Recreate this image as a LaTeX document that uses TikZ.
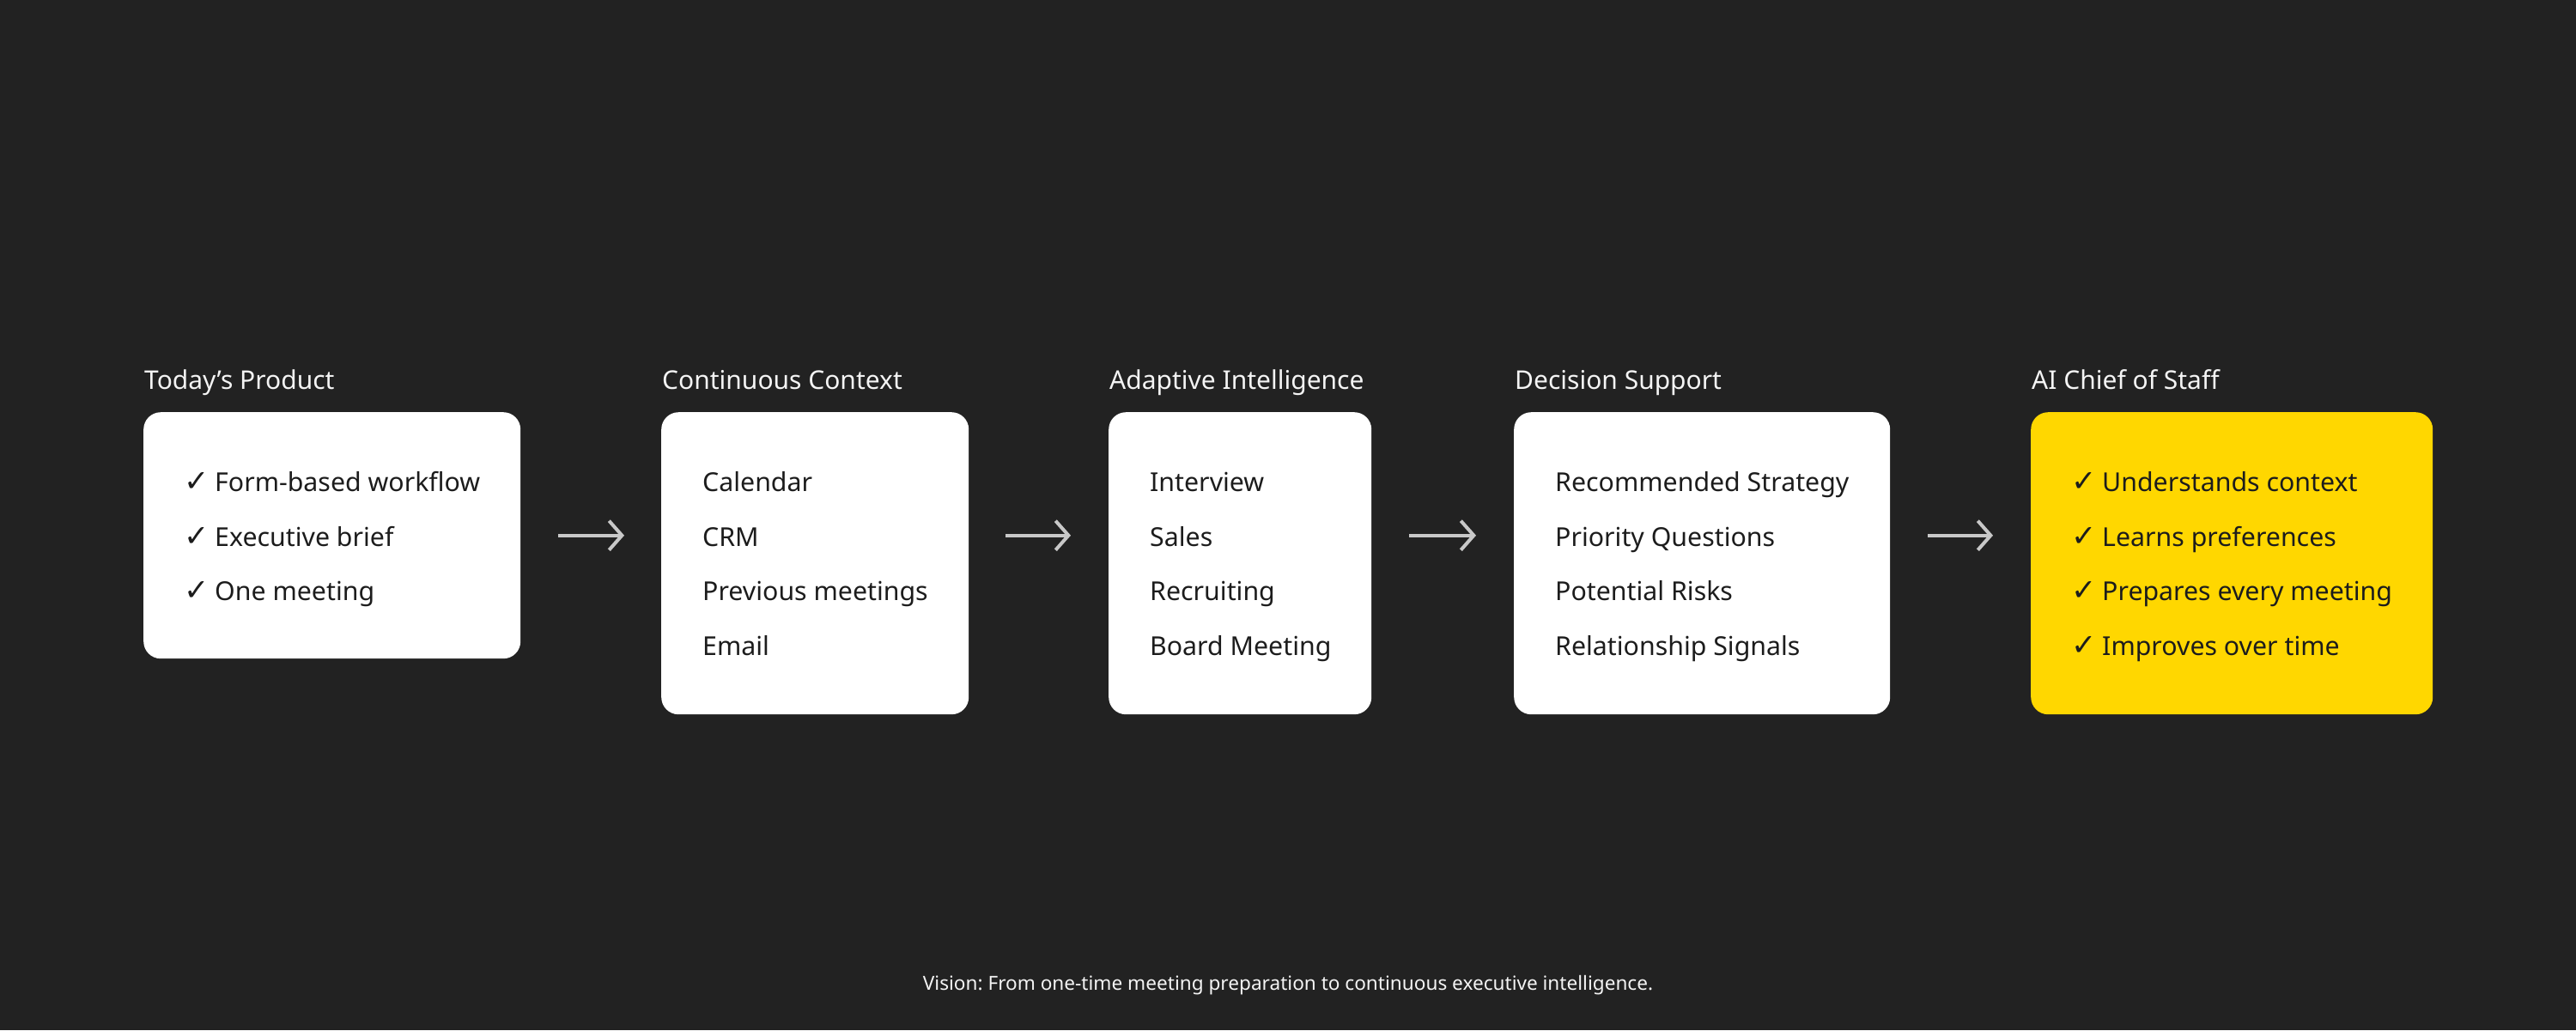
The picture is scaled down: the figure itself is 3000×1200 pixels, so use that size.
\documentclass[tikz,border=0pt]{standalone}
\usepackage{fontspec}
\setmainfont{Noto Sans}
\newfontfamily\chkfont{DejaVu Sans}
\usetikzlibrary{arrows.meta}
\definecolor{bg}{HTML}{222222}
\definecolor{ink}{HTML}{1C1C1C}
\definecolor{gold}{HTML}{FFD700}
\definecolor{arrowgray}{HTML}{C8C8C8}
\definecolor{titlewhite}{HTML}{F4F4F4}
\newcommand{\ck}{{\chkfont\fontsize{35}{40}\selectfont ✓}}
\frenchspacing
\begin{document}
\begin{tikzpicture}[x=1pt,y=-1pt,
  card/.style={draw=none, fill=white, rounded corners=20pt, anchor=north west, inner sep=0pt, minimum height=352pt},
  itemtxt/.style={anchor=base west, inner sep=0pt, text=ink, font=\fontsize{30.3}{36}\selectfont},
  heading/.style={anchor=base west, inner sep=0pt, text=titlewhite, font=\fontsize{30}{36}\selectfont},
  caption/.style={anchor=base, inner sep=0pt, text=titlewhite, font=\fontsize{22.6}{28}\selectfont},
  flow/.style={draw=arrowgray, line width=4pt, -{Straight Barb[length=15pt,width=34pt]}}]
\fill[bg] (0,0) rectangle (3000,1200);
\useasboundingbox (0,0) rectangle (3000,1200);

% cards
\node[card, minimum width=439pt, minimum height=287pt] (b1) at (167,480) {};
\node[card, minimum width=358pt] (b2) at (770,480) {};
\node[card, minimum width=306pt] (b3) at (1291,480) {};
\node[card, minimum width=438pt] (b4) at (1763,480) {};
\node[card, fill=gold, minimum width=468pt] (b5) at (2365,480) {};

% headings
\node[heading] (h1) at (168,453) {Today’s Product};
\node[heading] (h2) at (771,453) {Continuous Context};
\node[heading] (h3) at (1292,453) {Adaptive Intelligence};
\node[heading] (h4) at (1764,453) {Decision Support};
\node[heading] (h5) at (2366,453) {AI Chief of Staff};

% box 1
\node[itemtxt] (c11) at (214,572) {\ck};
\node[itemtxt] (t11) at (250,572) {Form-based workflow};
\node[itemtxt] (c12) at (214,636) {\ck};
\node[itemtxt] (t12) at (250,636) {Executive brief};
\node[itemtxt] (c13) at (214,699) {\ck};
\node[itemtxt] (t13) at (250,699) {One meeting};

% box 2
\node[itemtxt] (t21) at (818,572) {Calendar};
\node[itemtxt] (t22) at (818,636) {CRM};
\node[itemtxt] (t23) at (818,699) {Previous meetings};
\node[itemtxt] (t24) at (818,763) {Email};

% box 3
\node[itemtxt] (t31) at (1339,572) {Interview};
\node[itemtxt] (t32) at (1339,636) {Sales};
\node[itemtxt] (t33) at (1339,699) {Recruiting};
\node[itemtxt] (t34) at (1339,763) {Board Meeting};

% box 4
\node[itemtxt] (t41) at (1811,572) {Recommended Strategy};
\node[itemtxt] (t42) at (1811,636) {Priority Questions};
\node[itemtxt] (t43) at (1811,699) {Potential Risks};
\node[itemtxt] (t44) at (1811,763) {Relationship Signals};

% box 5
\node[itemtxt] (c51) at (2412,572) {\ck};
\node[itemtxt] (t51) at (2448,572) {Understands context};
\node[itemtxt] (c52) at (2412,636) {\ck};
\node[itemtxt] (t52) at (2448,636) {Learns preferences};
\node[itemtxt] (c53) at (2412,699) {\ck};
\node[itemtxt] (t53) at (2448,699) {Prepares every meeting};
\node[itemtxt] (c54) at (2412,763) {\ck};
\node[itemtxt] (t54) at (2448,763) {Improves over time};

% connectors
\draw[flow] ([xshift=44pt]b1.east) -- ([xshift=-43pt]b2.west |- b1.east);
\draw[flow] ([xshift=43pt]b2.east |- b1.east) -- ([xshift=-44pt]b3.west |- b1.east);
\draw[flow] ([xshift=44pt]b3.east |- b1.east) -- ([xshift=-44pt]b4.west |- b1.east);
\draw[flow] ([xshift=44pt]b4.east |- b1.east) -- ([xshift=-44pt]b5.west |- b1.east);

% caption
\node[caption] (cap) at (1500,1153) {Vision: From one-time meeting preparation to continuous executive intelligence.};
\end{tikzpicture}
\end{document}
